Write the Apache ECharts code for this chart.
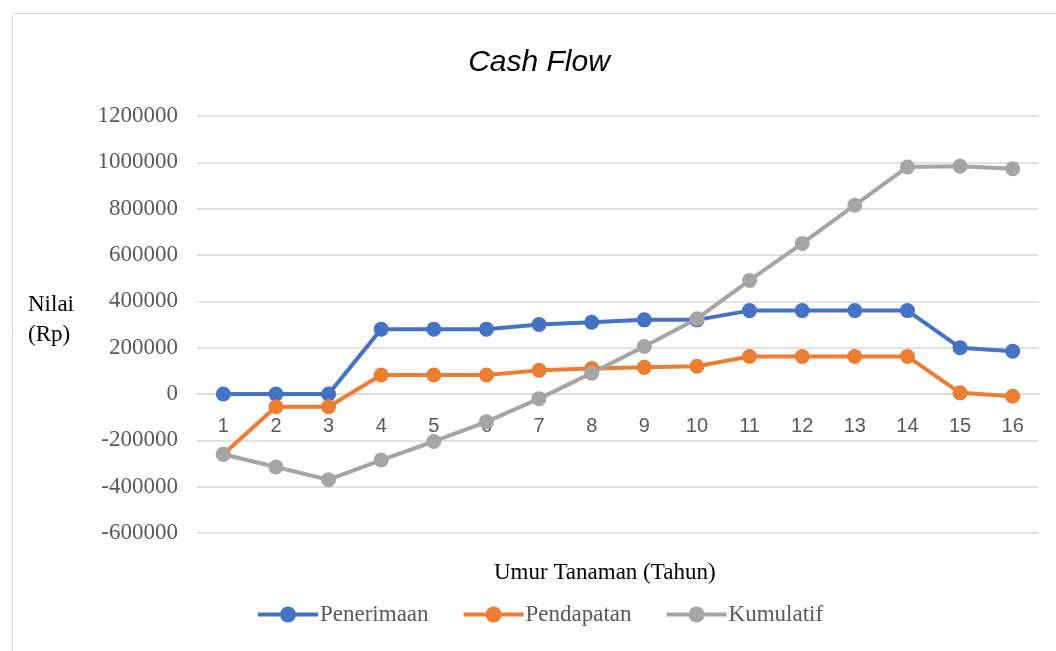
<!DOCTYPE html>
<html>
<head>
<meta charset="utf-8">
<script src="https://cdn.jsdelivr.net/npm/echarts@6/dist/echarts.min.js"></script>
<style>
html,body{margin:0;padding:0;background:#fff;}
#chart{width:1056px;height:651px;}
</style>
</head>
<body>
<div id="chart"></div>
<script>
const categories = ['1','2','3','4','5','6','7','8','9','10','11','12','13','14','15','16'];
const penerimaan = [0, 0, 0, 280000, 280000, 280000, 300000, 310000, 320000, 320000, 360000, 360000, 360000, 360000, 200000, 185000];
const pendapatan = [-260000, -55000, -55000, 82000, 82000, 82000, 102000, 110000, 115000, 120000, 162000, 162000, 162000, 162000, 5000, -10000];
const kumulatif = [-260000, -315000, -370000, -285000, -205000, -120000, -20000, 90000, 205000, 325000, 490000, 650000, 815000, 980000, 983000, 972000];
const yTicks = { min: -600000, max: 1200000, interval: 200000 };

const serif = 'Liberation Serif';
const chart = echarts.init(document.getElementById('chart'), null, { renderer: 'canvas' });

const gridTop = 116, gridBottom = 118, chartH = 651;
const plotH = chartH - gridTop - gridBottom;
// distance from the bottom of the plot to the zero line, derived from the axis range
const zeroOffset = plotH * (0 - yTicks.min) / (yTicks.max - yTicks.min);

function lineSeries(name, data, color) {
  return {
    name: name, type: 'line', data: data,
    symbol: 'circle', symbolSize: 15,
    lineStyle: { width: 4, color: color },
    itemStyle: { color: color },
    animation: false
  };
}

chart.setOption({
  backgroundColor: '#fff',
  animation: false,
  title: {
    text: 'Cash Flow', left: 534, top: 43, textAlign: 'center',
    textStyle: { fontFamily: 'Liberation Sans', fontStyle: 'italic', fontWeight: 'normal', fontSize: 30, color: '#000' }
  },
  graphic: [
    { type: 'rect', shape: { x: 12.5, y: 13.5, width: 1100, height: 700 }, style: { fill: 'none', stroke: '#d9d9d9', lineWidth: 1 }, silent: true },
    { type: 'text', left: 28, top: 290, style: { text: 'Nilai\n(Rp)', font: '23px "Liberation Serif"', fill: '#000', lineHeight: 30 } },
    { type: 'text', left: 494, top: 561, style: { text: 'Umur Tanaman (Tahun)', font: '23px "Liberation Serif"', fill: '#000' } }
  ],
  legend: {
    data: ['Penerimaan', 'Pendapatan', 'Kumulatif'],
    left: 251, top: 598,
    itemWidth: 60, itemHeight: 20, itemGap: 33,
    lineStyle: { width: 4 },
    textStyle: { fontFamily: serif, fontSize: 23, color: '#595959', padding: [0, 0, 0, -3] }
  },
  grid: { left: 197, right: 17, top: gridTop, bottom: gridBottom, containLabel: false },
  xAxis: {
    type: 'category', data: categories, boundaryGap: true,
    offset: -zeroOffset,
    axisLine: { onZero: false, lineStyle: { color: '#d9d9d9', width: 1.5 } },
    axisTick: { show: false },
    axisLabel: { fontFamily: 'Liberation Sans', fontSize: 20, color: '#595959', margin: 22 }
  },
  yAxis: {
    type: 'value', min: yTicks.min, max: yTicks.max, interval: yTicks.interval,
    axisLine: { show: false }, axisTick: { show: false },
    splitLine: { lineStyle: { color: '#d9d9d9', width: 1.5 } },
    axisLabel: { fontFamily: serif, fontSize: 23, color: '#595959', margin: 19, formatter: function (v) { return String(v); } }
  },
  series: [
    lineSeries('Penerimaan', penerimaan, '#4472C4'),
    lineSeries('Pendapatan', pendapatan, '#ED7D31'),
    lineSeries('Kumulatif', kumulatif, '#A5A5A5')
  ]
});
</script>
</body>
</html>
